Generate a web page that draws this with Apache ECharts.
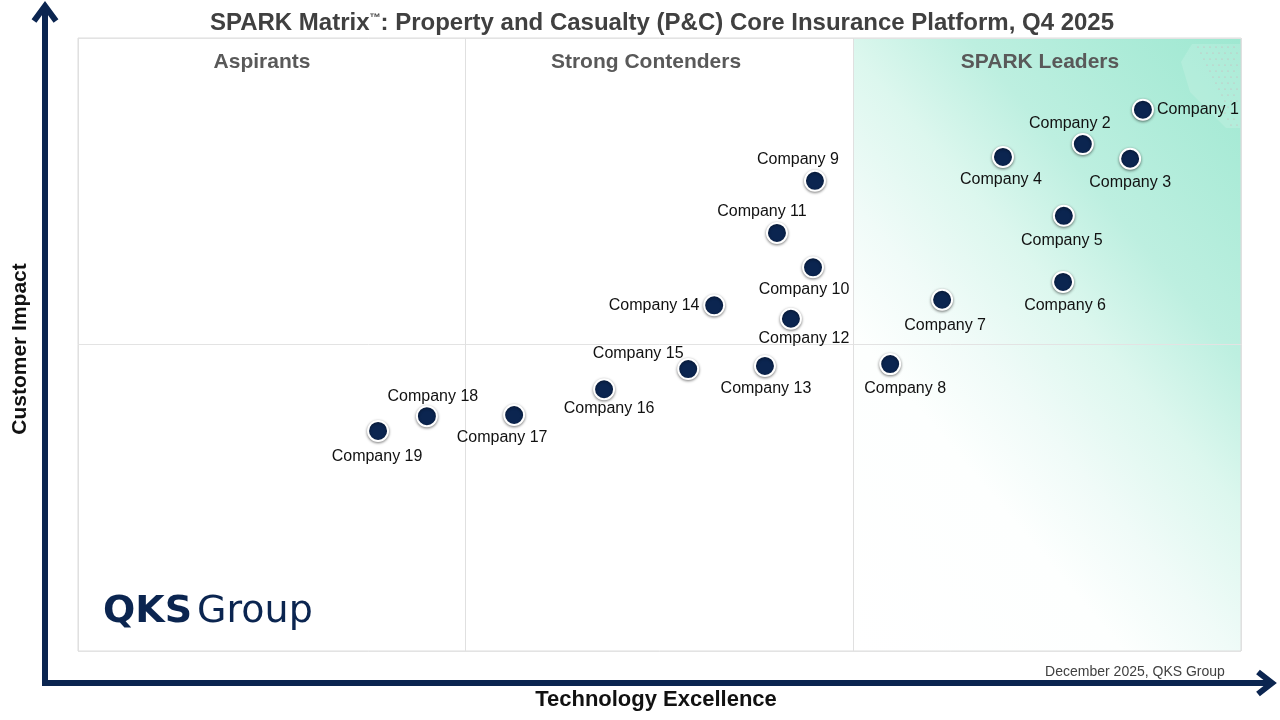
<!DOCTYPE html>
<html lang="en">
<head>
<meta charset="UTF-8">
<title>SPARK Matrix P&C Core Insurance Platform</title>
<script src="https://cdn.jsdelivr.net/npm/echarts@6/dist/echarts.min.js"></script>
<style>
  html, body { margin: 0; padding: 0; background: #fff; }
  #chart { width: 1280px; height: 720px; }
</style>
</head>
<body>
<div id="chart"></div>
<script>
    // vendors, technology excellence (0-3 = three columns), customer impact (0-100)
    var companies = ['Company 1', 'Company 2', 'Company 3', 'Company 4', 'Company 5',
        'Company 6', 'Company 7', 'Company 8', 'Company 9', 'Company 10',
        'Company 11', 'Company 12', 'Company 13', 'Company 14', 'Company 15',
        'Company 16', 'Company 17', 'Company 18', 'Company 19'];
    var techExcellence = [2.747, 2.592, 2.714, 2.386, 2.543, 2.541, 2.229, 2.095, 1.901, 1.896,
        1.803, 1.839, 1.772, 1.641, 1.574, 1.357, 1.125, 0.900, 0.774];
    var customerImpact = [88.3, 82.7, 80.3, 80.6, 71.0, 60.2, 57.3, 46.8, 76.7, 62.6,
        68.2, 54.2, 46.5, 56.4, 46.0, 42.7, 38.5, 38.3, 35.9];
    var quadrants = ['Aspirants', 'Strong Contenders', 'SPARK Leaders'];

    // where each label sits relative to its dot (px)
    var labelShift = [[55, 0], [-13, -20], [0, 24], [-2, 23], [-2, 25], [2, 24], [3, 26], [15, 24],
        [-17, -21], [-9, 22], [-15, -21], [13, 20], [1, 23], [-60, 0], [-50, -15],
        [5, 19], [-12, 23], [6, -20], [-1, 26]];
    var headerX = [262, 646, 1040];

    var navy = '#0b2550';
    var font = '"Liberation Sans", Arial, sans-serif';
    var gl = 78, gt = 38, gr = 1241, gb = 651;
    var colW = (gr - gl) / 3;

    var points = companies.map(function (name, i) {
        return {
            name: name,
            value: [techExcellence[i], customerImpact[i]],
            label: { offset: labelShift[i] }
        };
    });

    var chart = echarts.init(document.getElementById('chart'));

    var graphics = [
        {
            type: 'rect', z: -10,
            shape: { x: gl + 2 * colW, y: gt, width: gr - gl - 2 * colW, height: gb - gt },
            style: {
                fill: new echarts.graphic.LinearGradient(1241, 38, 711, 486, [
                    { offset: 0, color: '#9ee8d1' },
                    { offset: 0.3, color: '#bdefe0' },
                    { offset: 0.44, color: '#dcf7ee' },
                    { offset: 0.58, color: '#f0fbf8' },
                    { offset: 0.7, color: '#fdfffe' },
                    { offset: 1, color: '#ffffff' }
                ], true)
            }
        },
        {
            type: 'polygon', z: -9,
            shape: { points: [[1192, 44], [1240, 44], [1240, 128], [1226, 128], [1190, 92], [1181, 62]] },
            style: { fill: 'rgba(255,255,255,0.14)' }
        },
        // axis arrows
        { type: 'line', z: 10, shape: { x1: 45, y1: 8, x2: 45, y2: 686 }, style: { stroke: navy, lineWidth: 6 } },
        { type: 'line', z: 10, shape: { x1: 42, y1: 683, x2: 1271, y2: 683 }, style: { stroke: navy, lineWidth: 6 } },
        { type: 'polyline', z: 10, shape: { points: [[34, 21], [45, 6], [56, 21]] }, style: { stroke: navy, lineWidth: 6, fill: null } },
        { type: 'polyline', z: 10, shape: { points: [[1258, 672], [1272, 683], [1258, 694]] }, style: { stroke: navy, lineWidth: 6, fill: null } },
        {
            type: 'text', z: 10, position: [656, 700],
            style: { text: 'Technology Excellence', x: 0, y: 0, textAlign: 'center', textVerticalAlign: 'middle',
                font: 'bold 22px ' + font, fill: '#111' }
        },
        {
            type: 'text', z: 10, position: [20, 349], rotation: Math.PI / 2,
            style: { text: 'Customer Impact', x: 0, y: 0, textAlign: 'center', textVerticalAlign: 'middle',
                font: 'bold 21px ' + font, fill: '#111' }
        },
        {
            type: 'text', z: 10, position: [1135, 672],
            style: { text: 'December 2025, QKS Group', x: 0, y: 0, textAlign: 'center', textVerticalAlign: 'middle',
                font: '14px ' + font, fill: '#404040' }
        },
        {
            type: 'text', z: 10, position: [103, 612],
            style: {
                text: '{a|QKS}{b|Group}', x: 0, y: 0, textVerticalAlign: 'middle',
                rich: {
                    a: { fontFamily: 'DejaVu Sans', fontWeight: 'bold', fontSize: 38, fill: navy, padding: [0, 5, 0, 0] },
                    b: { fontFamily: 'DejaVu Sans', fontWeight: 'normal', fontSize: 38, fill: navy }
                }
            }
        }
    ];

    // dotted corner ornament
    for (var r = 0; r < 14; r++) {
        for (var c = 0; c < 8; c++) {
            var dx = 1198 + c * 6 + (r % 2) * 3, dy = 47 + r * 6;
            if (dx > 1238 || dx < 1198 + r * 2.4) continue;
            graphics.push({ type: 'circle', z: -8, shape: { cx: dx, cy: dy, r: 0.6 }, style: { fill: '#d6a9b4' } });
        }
    }

    quadrants.forEach(function (q, i) {
        graphics.push({
            type: 'text', z: 10, position: [headerX[i], 62],
            style: { text: q, x: 0, y: 0, textAlign: 'center', textVerticalAlign: 'middle',
                font: 'bold 21px ' + font, fill: '#595959' }
        });
    });

    chart.setOption({
        animation: false,
        title: {
            text: 'SPARK Matrix{tm|™}: Property and Casualty (P&C) Core Insurance Platform, Q4 2025',
            left: 657, top: 6, textAlign: 'center',
            textStyle: {
                fontFamily: font, fontSize: 24, fontWeight: 'bold', color: '#404040',
                rich: { tm: { fontSize: 11, fontWeight: 'bold', color: '#404040', padding: [0, 0, 11, 0] } }
            }
        },
        grid: { left: gl, top: gt, right: 1280 - gr, bottom: 720 - gb, show: true, borderColor: '#dcdcdc', borderWidth: 1, backgroundColor: 'transparent' },
        xAxis: {
            type: 'value', min: 0, max: 3, interval: 1,
            axisLine: { show: false }, axisTick: { show: false }, axisLabel: { show: false },
            splitLine: { show: true, lineStyle: { color: '#e0e0e0', width: 1 } }
        },
        yAxis: {
            type: 'value', min: 0, max: 100, interval: 50,
            axisLine: { show: false }, axisTick: { show: false }, axisLabel: { show: false },
            splitLine: { show: true, lineStyle: { color: '#e3e3e3', width: 1 } }
        },
        graphic: graphics,
        series: [{
            type: 'scatter',
            data: points,
            symbolSize: 20,
            itemStyle: {
                color: navy, opacity: 1, borderColor: '#fff', borderWidth: 2,
                shadowBlur: 3, shadowColor: 'rgba(0,0,0,0.45)', shadowOffsetY: 1
            },
            label: {
                show: true, position: 'inside', formatter: '{b}',
                fontFamily: font, fontSize: 16, color: '#111'
            },
            emphasis: { disabled: true }
        }]
    });
</script>
</body>
</html>
